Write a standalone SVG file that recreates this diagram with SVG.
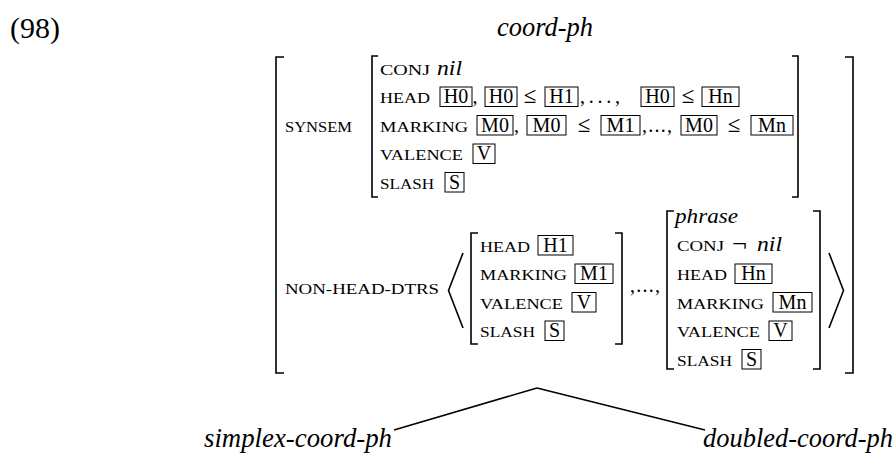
<svg xmlns="http://www.w3.org/2000/svg" width="894" height="460" viewBox="0 0 894 460">
<style>
text{font-family:"Liberation Serif","Times New Roman",serif;fill:#000}
.sc{font-size:15px}
.rm{font-size:20px}
.bx{font-size:20px;text-anchor:middle}
.le{font-size:23px;text-anchor:middle}
.mi{font-size:21px;font-style:italic}
.lb{font-size:26.5px;font-style:italic}
.ex{font-size:30px}
rect{fill:none;stroke:#000;stroke-width:1}
.br{fill:none;stroke:#000;stroke-width:1.6}
.ln{fill:none;stroke:#000;stroke-width:1.6}
</style>
<g id="example-number"><text class="ex" x="10" y="38">(98)</text></g>
<g id="node-coord-ph">
<text class="lb" x="497" y="36" textLength="96" lengthAdjust="spacingAndGlyphs">coord-ph</text>
<g id="avm">
<path class="br" d="M284,57 H276 V373 H284"/>
<path class="br" d="M845,57 H853 V373 H845"/>
<text class="sc" x="285" y="132" textLength="67" lengthAdjust="spacingAndGlyphs">SYNSEM</text>
<g id="synsem-value">
<path class="br" d="M378,56 H372 V197 H378"/>
<path class="br" d="M792,56 H798 V197 H792"/>
<text class="sc" x="380" y="74.5" textLength="50" lengthAdjust="spacingAndGlyphs">CONJ</text>
<text class="mi" x="437" y="74.5" textLength="25" lengthAdjust="spacingAndGlyphs">nil</text>
<text class="sc" x="380" y="103" textLength="50" lengthAdjust="spacingAndGlyphs">HEAD</text>
<rect x="440" y="87" width="32" height="19.5"/><text class="bx" x="456" y="103">H0</text>
<text class="rm" x="472.5" y="103">,</text>
<rect x="485" y="87" width="32" height="19.5"/><text class="bx" x="501" y="103">H0</text>
<text class="le" x="530" y="103">≤</text>
<rect x="545" y="87" width="33" height="19.5"/><text class="bx" x="561.5" y="103">H1</text>
<text class="rm" x="580" y="103" textLength="40">,...,</text>
<rect x="641" y="87" width="33" height="19.5"/><text class="bx" x="657.5" y="103">H0</text>
<text class="le" x="688" y="103">≤</text>
<rect x="702" y="87" width="37" height="19.5"/><text class="bx" x="720.5" y="103">Hn</text>
<text class="sc" x="380" y="131.5" textLength="88" lengthAdjust="spacingAndGlyphs">MARKING</text>
<rect x="477" y="115.5" width="36" height="19.5"/><text class="bx" x="495" y="131.5">M0</text>
<text class="rm" x="514" y="131.5">,</text>
<rect x="527" y="115.5" width="39" height="19.5"/><text class="bx" x="546.5" y="131.5">M0</text>
<text class="le" x="584" y="131.5">≤</text>
<rect x="601" y="115.5" width="39" height="19.5"/><text class="bx" x="620.5" y="131.5">M1</text>
<text class="rm" x="642" y="131.5" textLength="30">,...,</text>
<rect x="681" y="115.5" width="36" height="19.5"/><text class="bx" x="699" y="131.5">M0</text>
<text class="le" x="734" y="131.5">≤</text>
<rect x="751" y="115.5" width="42" height="19.5"/><text class="bx" x="772" y="131.5">Mn</text>
<text class="sc" x="380" y="160" textLength="83" lengthAdjust="spacingAndGlyphs">VALENCE</text>
<rect x="473" y="144" width="22" height="19.5"/><text class="bx" x="484" y="160">V</text>
<text class="sc" x="380" y="188.5" textLength="54" lengthAdjust="spacingAndGlyphs">SLASH</text>
<rect x="445" y="172.5" width="19" height="19.5"/><text class="bx" x="454.5" y="188.5">S</text>
</g>
<text class="sc" x="285" y="294" textLength="154" lengthAdjust="spacingAndGlyphs">NON-HEAD-DTRS</text>
<g id="dtrs-list">
<polyline class="br" points="463,253 448.5,290.5 463,328"/>
<polyline class="br" points="829,253 843.5,290.5 829,328"/>
<g id="dtr-1">
<path class="br" d="M478,233 H471 V344 H478"/>
<path class="br" d="M615,233 H622 V344 H615"/>
<text class="sc" x="480" y="251.5" textLength="50" lengthAdjust="spacingAndGlyphs">HEAD</text>
<rect x="538" y="235.5" width="35" height="19.5"/><text class="bx" x="555.5" y="251.5">H1</text>
<text class="sc" x="480" y="280" textLength="87" lengthAdjust="spacingAndGlyphs">MARKING</text>
<rect x="575" y="264" width="38" height="19.5"/><text class="bx" x="594" y="280">M1</text>
<text class="sc" x="480" y="308.5" textLength="83" lengthAdjust="spacingAndGlyphs">VALENCE</text>
<rect x="572" y="292.5" width="24" height="19.5"/><text class="bx" x="584" y="308.5">V</text>
<text class="sc" x="480" y="337" textLength="55" lengthAdjust="spacingAndGlyphs">SLASH</text>
<rect x="545" y="321" width="19" height="19.5"/><text class="bx" x="554.5" y="337">S</text>
</g>
<text class="rm" x="630" y="292" textLength="30">,...,</text>
<g id="dtr-n">
<path class="br" d="M674,211 H667 V369 H674"/>
<path class="br" d="M813,211 H820 V369 H813"/>
<text class="mi" x="675" y="222.5" textLength="63" lengthAdjust="spacingAndGlyphs">phrase</text>
<text class="sc" x="677" y="251" textLength="47" lengthAdjust="spacingAndGlyphs">CONJ</text>
<text class="rm" x="732" y="251" textLength="15" lengthAdjust="spacingAndGlyphs">¬</text>
<text class="mi" x="757" y="251" textLength="25" lengthAdjust="spacingAndGlyphs">nil</text>
<text class="sc" x="677" y="280" textLength="50" lengthAdjust="spacingAndGlyphs">HEAD</text>
<rect x="735" y="264" width="37" height="19.5"/><text class="bx" x="753.5" y="280">Hn</text>
<text class="sc" x="677" y="308.5" textLength="87" lengthAdjust="spacingAndGlyphs">MARKING</text>
<rect x="773" y="292.5" width="39" height="19.5"/><text class="bx" x="792.5" y="308.5">Mn</text>
<text class="sc" x="677" y="337" textLength="83" lengthAdjust="spacingAndGlyphs">VALENCE</text>
<rect x="769" y="321" width="23" height="19.5"/><text class="bx" x="780.5" y="337">V</text>
<text class="sc" x="677" y="365.5" textLength="55" lengthAdjust="spacingAndGlyphs">SLASH</text>
<rect x="742" y="349.5" width="19" height="19.5"/><text class="bx" x="751.5" y="365.5">S</text>
</g>
</g>
</g>
</g>
<g id="node-simplex-coord-ph"><text class="lb" x="204" y="447" textLength="188" lengthAdjust="spacingAndGlyphs">simplex-coord-ph</text></g>
<g id="node-doubled-coord-ph"><text class="lb" x="703" y="447" textLength="190" lengthAdjust="spacingAndGlyphs">doubled-coord-ph</text></g>
<g id="connectors">
<line class="ln" x1="537" y1="388" x2="394" y2="430"/>
<line class="ln" x1="537" y1="388" x2="705" y2="430"/>
</g>
</svg>
